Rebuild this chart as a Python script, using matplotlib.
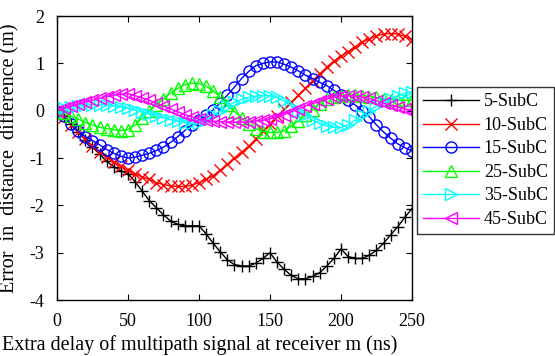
import numpy as np
import matplotlib
matplotlib.use("Agg")
import matplotlib.pyplot as plt

plt.rcParams['font.family'] = ['Liberation Serif', 'DejaVu Serif']
plt.rcParams['axes.unicode_minus'] = False

# extra delay (ns), one point every 5 ns
delay = np.arange(0, 251, 5)

sub5 = [0, -0.12, -0.28, -0.45, -0.62, -0.77, -0.92, -1.07, -1.18, -1.27, -1.33,
        -1.5, -1.7, -1.9, -2.05, -2.2, -2.33, -2.4, -2.43, -2.43, -2.43,
        -2.6, -2.8, -2.98, -3.15, -3.25, -3.28, -3.28, -3.22, -3.12, -3.0,
        -3.2, -3.35, -3.48, -3.55, -3.55, -3.5, -3.42, -3.28, -3.12, -2.92,
        -3.08, -3.12, -3.12, -3.05, -2.95, -2.8, -2.62, -2.45, -2.25, -2.07]
sub10 = [0, -0.13, -0.3, -0.45, -0.6, -0.75, -0.87, -0.98, -1.08, -1.17, -1.25,
         -1.33, -1.4, -1.45, -1.52, -1.56, -1.59, -1.6, -1.6, -1.57, -1.52,
         -1.45, -1.37, -1.26, -1.13, -1.0, -0.88, -0.75, -0.6, -0.43, -0.28,
         -0.12, 0.03, 0.18, 0.33, 0.48, 0.63, 0.78, 0.92, 1.05, 1.15,
         1.25, 1.35, 1.45, 1.52, 1.58, 1.62, 1.63, 1.62, 1.57, 1.5]
sub15 = [0, -0.12, -0.28, -0.43, -0.55, -0.63, -0.72, -0.82, -0.9, -0.96, -1.0,
         -0.98, -0.94, -0.9, -0.84, -0.77, -0.67, -0.55, -0.42, -0.3, -0.2,
         -0.1, 0.02, 0.17, 0.33, 0.5, 0.68, 0.83, 0.95, 1.0, 1.03,
         1.03, 0.98, 0.92, 0.84, 0.75, 0.68, 0.6, 0.53, 0.43, 0.33,
         0.23, 0.12, 0.0, -0.13, -0.3, -0.45, -0.58, -0.7, -0.78, -0.85]
sub25 = [0, -0.05, -0.12, -0.18, -0.25, -0.3, -0.35, -0.38, -0.4, -0.42, -0.4,
         -0.3, -0.15, 0.0, 0.12, 0.25, 0.37, 0.47, 0.55, 0.58, 0.57,
         0.52, 0.42, 0.28, 0.12, -0.02, -0.15, -0.28, -0.38, -0.44, -0.46,
         -0.46, -0.42, -0.32, -0.22, -0.1, 0.02, 0.15, 0.25, 0.3, 0.32,
         0.33, 0.33, 0.32, 0.3, 0.28, 0.25, 0.23, 0.22, 0.22, 0.22]
sub35 = [0, 0.05, 0.08, 0.1, 0.12, 0.13, 0.13, 0.12, 0.1, 0.08, 0.05,
         0.01, -0.03, -0.07, -0.11, -0.15, -0.19, -0.22, -0.25, -0.27, -0.26,
         -0.2, -0.1, 0.0, 0.1, 0.18, 0.24, 0.28, 0.31, 0.32, 0.32,
         0.28, 0.2, 0.1, 0.0, -0.1, -0.2, -0.27, -0.32, -0.35, -0.35,
         -0.3, -0.2, -0.1, 0.0, 0.1, 0.18, 0.25, 0.32, 0.37, 0.4]
sub45 = [0, 0.05, 0.1, 0.14, 0.18, 0.22, 0.26, 0.3, 0.33, 0.35, 0.36,
         0.32, 0.27, 0.22, 0.16, 0.1, 0.04, -0.02, -0.08, -0.13, -0.17,
         -0.2, -0.22, -0.23, -0.24, -0.24, -0.24, -0.24, -0.22, -0.2, -0.17,
         -0.13, -0.08, -0.02, 0.04, 0.1, 0.15, 0.2, 0.25, 0.29, 0.31,
         0.32, 0.31, 0.29, 0.26, 0.21, 0.16, 0.12, 0.08, 0.04, 0.0]

labels = ['5-SubC', '10-SubC', '15-SubC', '25-SubC', '35-SubC', '45-SubC']
series = [sub5, sub10, sub15, sub25, sub35, sub45]
colors = ['black', 'red', 'blue', '#00ff00', 'cyan', 'magenta']
markers = ['+', 'x', 'o', '^', '>', '<']

fig = plt.figure(figsize=(5.55, 3.56), dpi=100)
ax = fig.add_axes([0.1027, 0.157, 0.6396, 0.798])

for y, lab, c, m in zip(series, labels, colors, markers):
    ax.plot(delay, y, color=c, marker=m, markersize=8, markerfacecolor='none',
            markeredgewidth=1.0, linewidth=1.0, label=lab)

ax.set_xlim(0, 250)
ax.set_ylim(-4, 2)
ax.set_xticks([0, 50, 100, 150, 200, 250])
ax.set_yticks([-4, -3, -2, -1, 0, 1, 2])
ax.tick_params(direction='in', top=True, right=True, labelsize=13, length=4)
ax.tick_params(axis='x', pad=9)
ax.tick_params(axis='y', pad=9)
for s in ax.spines.values():
    s.set_linewidth(1.0)

# x label sits left of the axes centre in the original
fig.text(2 / 555, 1 - 345 / 356, 'Extra delay of multipath signal at receiver m (ns)',
         fontsize=14.5, ha='left', va='center')
ax.set_ylabel('Error  in  distance  difference (m)', fontsize=14.5, labelpad=7)

leg = ax.legend(loc='upper left', bbox_to_anchor=(417 / 555, 1 - 87 / 356),
                bbox_transform=fig.transFigure, fontsize=13, frameon=True,
                fancybox=False, handlelength=3.1, borderaxespad=0,
                labelspacing=0.36, borderpad=0.35, handletextpad=0.25)
leg.get_frame().set_edgecolor('black')
leg.get_frame().set_linewidth(1.0)

fig.savefig('out.png', dpi=100)
